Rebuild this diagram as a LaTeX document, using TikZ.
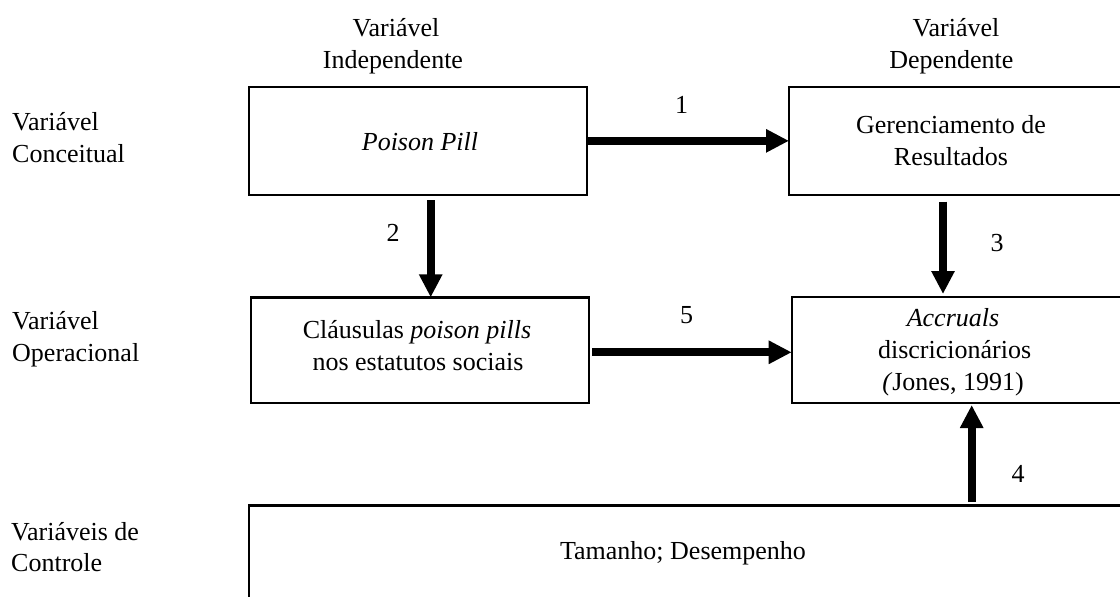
\documentclass[tikz,border=0pt]{standalone}
\usepackage{fontspec}
\setmainfont{Liberation Serif}
\usetikzlibrary{arrows.meta}
\begin{document}
\begin{tikzpicture}[x=1pt,y=-1pt,
  box/.style={draw, line width=2.3pt, rectangle, inner sep=0pt, outer sep=0pt},
  txt/.style={anchor=base, inner sep=0pt, font=\fontsize{26}{34}\selectfont},
  lbl/.style={anchor=base west, inner sep=0pt, font=\fontsize{26}{34}\selectfont},
  arr/.style={line width=8pt, -{Triangle[length=23pt,width=22pt]}}
]
\fill[white] (0,0) rectangle (1120,597);
\path[use as bounding box, clip] (0,0) rectangle (1120,597);

% boxes
\node[box, minimum width=338pt, minimum height=108.3pt] (A) at (418.3,140.85) {};
\node[box, minimum width=351pt, minimum height=108.3pt] (B) at (964.5,140.85) {};
\node[box, minimum width=338pt, minimum height=105.7pt] (C) at (420,350.2) {};
\node[box, minimum width=348.3pt, minimum height=106pt] (D) at (965.85,350) {};
\node[box, minimum width=891pt, minimum height=144.5pt] (E) at (694.5,577.75) {};

% column headers
\node[txt] (h1a) at (396,36) {Variável};
\node[txt] (h1b) at (393,68.3) {Independente};
\node[txt] (h2a) at (956,36) {Variável};
\node[txt] (h2b) at (951.4,68.3) {Dependente};

% row labels
\node[lbl] (r1a) at (12,130) {Variável};
\node[lbl] (r1b) at (12,162.7) {Conceitual};
\node[lbl] (r2a) at (12,329) {Variável};
\node[lbl] (r2b) at (12,361.7) {Operacional};
\node[lbl] (r3a) at (11,540) {Variáveis de};
\node[lbl] (r3b) at (11,571.7) {Controle};

% box texts
\node[txt] (tA) at (420,150) {\textit{Poison Pill}};
\node[txt] (tB1) at (951,133) {Gerenciamento de};
\node[txt] (tB2) at (951,165.7) {Resultados};
\node[txt] (tC1) at (417,338) {Cláusulas \textit{poison pills}};
\node[txt] (tC2) at (418,370) {nos estatutos sociais};
\node[txt] (tD1) at (953,326) {\textit{Accruals}};
\node[txt] (tD2) at (954.6,358.3) {discricionários};
\node[txt] (tD3) at (953,390) {\textit{(}Jones, 1991)};
\node[txt] (tE) at (683,559.3) {Tamanho; Desempenho};

% connector coordinates
\coordinate (x2) at (430.7,0);
\coordinate (x3) at (943,0);
\coordinate (x4) at (971.7,0);
\coordinate (y5) at (0,352.3);

% connectors
\draw[arr] (A.east) -- (B.west);
\draw[arr, shorten <=5pt] (A.south -| x2) -- (C.north -| x2);
\draw[arr, shorten <=6.7pt, shorten >=3pt] (B.south -| x3) -- (D.north -| x3);
\draw[arr, shorten <=3.5pt, shorten >=2pt] (E.north -| x4) -- (D.south -| x4);
\draw[arr, shorten <=3.3pt] (C.east |- y5) -- (D.west |- y5);

% connector labels
\node[txt] (n1) at (681.7,113) {1};
\node[txt] (n2) at (393,241.7) {2};
\node[txt] (n3) at (997,251.7) {3};
\node[txt] (n4) at (1018,482.7) {4};
\node[txt] (n5) at (686.7,323) {5};
\end{tikzpicture}
\end{document}
